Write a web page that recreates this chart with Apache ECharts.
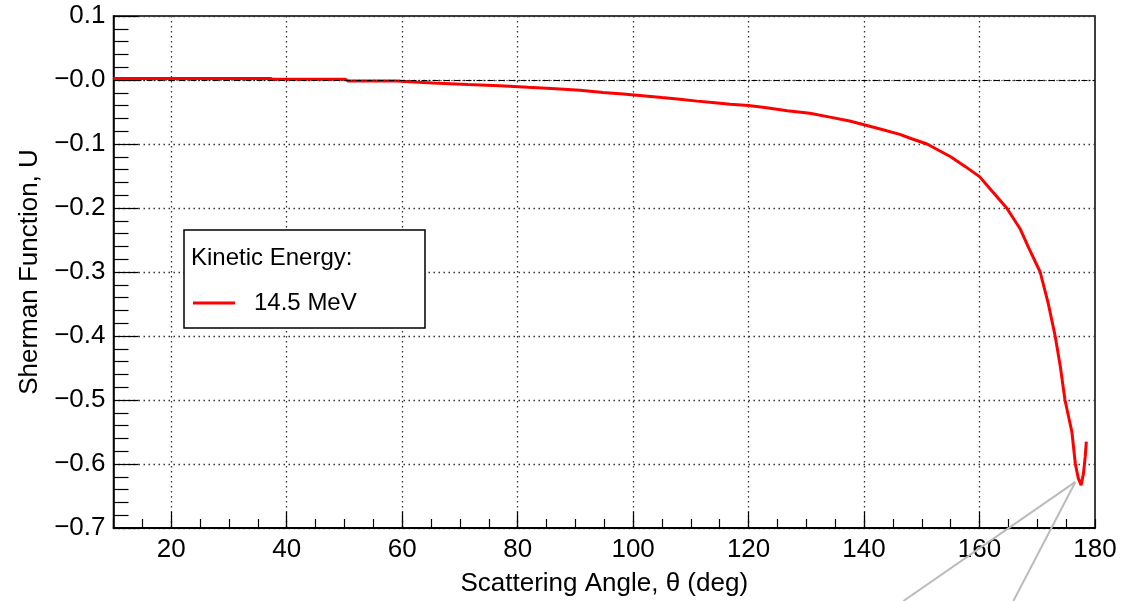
<!DOCTYPE html>
<html>
<head>
<meta charset="utf-8">
<script src="https://cdn.jsdelivr.net/npm/echarts@6/dist/echarts.min.js"></script>
<style>
html,body{margin:0;padding:0;background:#fff;}
#chart{width:1145px;height:601px;}
</style>
</head>
<body>
<div id="chart"></div>
<script>
// ---- data ----
var seriesName = '14.5 MeV';
var legendHeader = 'Kinetic Energy:';
var angles = [10, 20, 30, 37.2, 37.6, 45, 50.2, 50.6, 55, 59, 59.3, 62, 65.3, 71.4, 76.9, 81.8, 86.6, 90.8, 94.8, 98.3,
  102.1, 105, 108.1, 111.1, 113.7, 116.8, 120, 122.8, 126.7, 130.6, 134.1, 137.5, 140, 142.8, 146.2, 148,
  150.9, 155, 157.5, 160, 162, 164.7, 167, 168.5, 170.5, 171.9, 173.1, 174, 174.8, 175.4, 176, 176.6, 177.1, 177.6, 178, 178.3, 178.5];
var sherman = [0.0025, 0.0025, 0.0025, 0.0025, 0.001, 0.001, 0.001, -0.0015, -0.0015, -0.0015, -0.003, -0.003, -0.0045, -0.007, -0.009, -0.0115, -0.0135, -0.016, -0.0195, -0.022,
  -0.025, -0.0275, -0.030, -0.033, -0.035, -0.038, -0.040, -0.043, -0.048, -0.052, -0.058, -0.064, -0.070, -0.0765, -0.085, -0.091,
  -0.100, -0.120, -0.135, -0.151, -0.172, -0.200, -0.232, -0.262, -0.300, -0.349, -0.400, -0.448, -0.500, -0.525, -0.550, -0.600, -0.622, -0.633, -0.615, -0.589, -0.565];
var xMajorTicks = [20, 40, 60, 80, 100, 120, 140, 160];
var xTickLabels = [20, 40, 60, 80, 100, 120, 140, 160, 180];
var xTitle = 'Scattering Angle, \u03b8 (deg)';
var yTitle = 'Sherman Function, U';

var chart = echarts.init(document.getElementById('chart'));
var FONT = '"Liberation Sans", Arial, Helvetica, sans-serif';
var pts = angles.map(function (a, i) { return [a, sherman[i]]; });

function yFmt(v) {
  var r = Math.round(v * 10) / 10;
  if (r > 0.05) return r.toFixed(1);
  return '\u2212' + Math.abs(r).toFixed(1);
}

var gridLine = { show: true, lineStyle: { color: '#333', type: [1.5, 3.5], width: 1.3 } };

var option = {
  animation: false,
  backgroundColor: '#fff',
  grid: { left: 113.5, right: 50, top: 16, bottom: 73, show: true, borderColor: '#000', borderWidth: 1.5, backgroundColor: 'transparent', containLabel: false, outerBoundsMode: 'none' },
  xAxis: [
    {
      type: 'value', min: 10, max: 180, interval: 5, position: 'bottom',
      axisLine: { show: true, onZero: false, lineStyle: { color: '#000', width: 1.5 } },
      axisTick: { show: true, inside: true, length: 9, lineStyle: { color: '#000', width: 1.2 } },
      axisLabel: { show: false },
      splitLine: { show: false }
    },
    {
      type: 'value', min: 10, max: 180, position: 'bottom',
      axisLine: { show: true, onZero: false, lineStyle: { color: '#000', width: 1.5 } },
      axisTick: { show: true, inside: true, length: 16, customValues: xMajorTicks, lineStyle: { color: '#000', width: 1.2 } },
      axisLabel: { show: true, customValues: xTickLabels, fontSize: 26, color: '#000', fontFamily: FONT, margin: 9 },
      splitLine: gridLine,
      name: xTitle, nameLocation: 'middle', nameGap: 43,
      nameTextStyle: { fontSize: 26, color: '#000', fontFamily: FONT }
    }
  ],
  yAxis: {
    type: 'value', min: -0.7, max: 0.1, interval: 0.1,
    axisLine: { show: true, onZero: false, lineStyle: { color: '#000', width: 1.5 } },
    axisTick: { show: true, inside: true, length: 25, lineStyle: { color: '#000', width: 1.2 } },
    minorTick: { show: true, splitNumber: 5, length: 15, lineStyle: { color: '#000', width: 1.2 } },
    axisLabel: { fontSize: 26, color: '#000', fontFamily: FONT, margin: 8, formatter: yFmt },
    splitLine: gridLine,
    name: yTitle, nameLocation: 'middle', nameGap: 62, nameRotate: 90,
    nameTextStyle: { fontSize: 26, color: '#000', fontFamily: FONT }
  },
  legend: {
    show: true, left: 193, top: 291, padding: 0, orient: 'vertical',
    itemWidth: 42, itemHeight: 3,
    data: [{ name: seriesName, icon: 'rect' }],
    textStyle: { fontSize: 24, color: '#000', fontFamily: FONT, padding: [0, 0, 0, 14] }
  },
  series: [{
    name: seriesName, type: 'line', xAxisIndex: 1, data: pts,
    showSymbol: false, symbol: 'none',
    lineStyle: { color: '#ff0000', width: 3 }, itemStyle: { color: '#ff0000' },
    z: 3,
    markLine: {
      silent: true, symbol: 'none', label: { show: false },
      lineStyle: { color: '#000', type: [6, 2, 1, 2], width: 1 },
      data: [{ yAxis: 0 }]
    }
  }]
};
chart.setOption(option);

// grey pointer lines from the curve minimum region (annotation artefact in reference)
var anchor = chart.convertToPixel({ xAxisIndex: 1, yAxisIndex: 0 }, [176.6, -0.628]);
chart.setOption({
  graphic: [
    { type: 'rect', z: 3, shape: { x: 184, y: 230, width: 241, height: 98 }, style: { fill: '#fff', stroke: '#000', lineWidth: 1.5 } },
    { type: 'text', z: 5, x: 191, y: 258, style: { text: legendHeader, font: '24px ' + FONT, fill: '#000', textVerticalAlign: 'middle' } },
    { type: 'line', z: 6, shape: { x1: anchor[0], y1: anchor[1], x2: anchor[0] - 172, y2: 601 }, style: { stroke: '#bbbbbb', lineWidth: 2 } },
    { type: 'line', z: 6, shape: { x1: anchor[0], y1: anchor[1], x2: anchor[0] - 62, y2: 601 }, style: { stroke: '#bbbbbb', lineWidth: 2 } }
  ]
});
</script>
</body>
</html>
